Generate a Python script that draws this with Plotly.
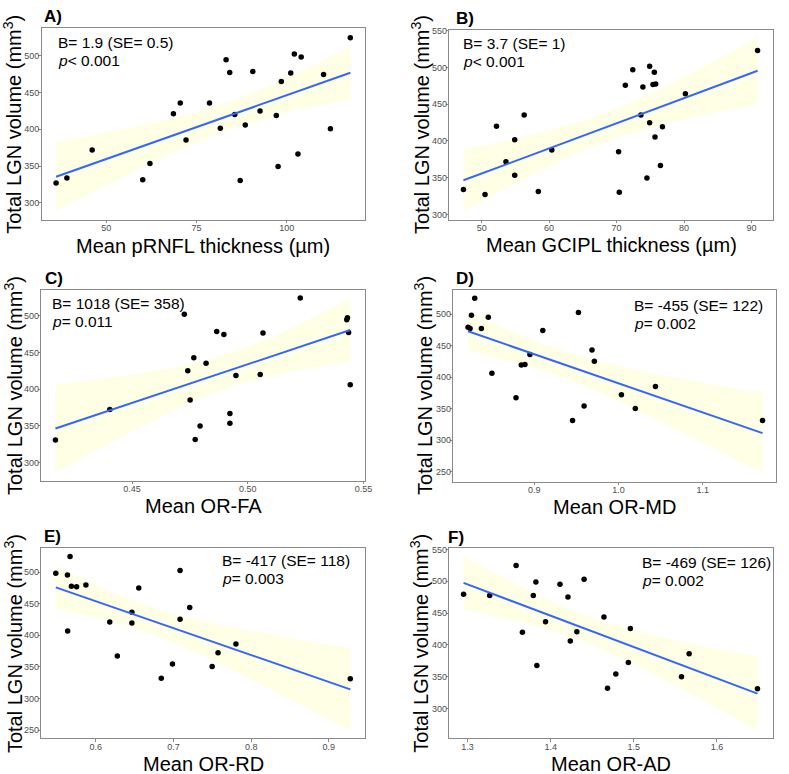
import plotly.graph_objects as go
import numpy as np

#%% Data
a_x = [36.1, 39.1, 46.1, 60.1, 62.1, 68.6, 70.5, 72.1, 78.6, 81.6, 83.2, 84.2, 85.6, 87.1,
       88.5, 90.6, 92.6, 97.1, 97.6, 98.5, 101.1, 102.1, 103.1, 104.0, 110.2, 112.1, 117.6]
a_y = [327, 334, 372, 331.5, 353.5, 421, 435.7, 385.4, 435.7, 401.6, 494.6, 477.1, 420, 330.6,
       406, 478.4, 425, 418.7, 349.4, 465, 476.6, 502.2, 366.5, 498.2, 474.4, 400.7, 524.5]

b_x = [47.3, 50.5, 52.2, 53.6, 54.9, 54.9, 56.3, 58.4, 60.4, 70.3, 70.4, 71.3, 72.4, 73.6,
       73.9, 74.5, 74.9, 74.9, 75.6, 75.4, 75.8, 75.7, 76.5, 76.8, 80.2, 90.9]
b_y = [333.8, 327, 419.8, 371.6, 401.4, 353.2, 435.1, 331.1, 387.8, 385.1, 330.2, 475.7, 496.8,
       435.1, 473.4, 349.5, 501.4, 424.8, 493.2, 476.6, 477.5, 405.4, 366.7, 419.4, 464, 523]

c_x = [0.4169, 0.4404, 0.4726, 0.4741, 0.4751, 0.4767, 0.4773, 0.4794, 0.482, 0.4866, 0.4897,
       0.4923, 0.4923, 0.4949, 0.5054, 0.5066, 0.5227, 0.5428, 0.5431, 0.5436, 0.5443]
c_y = [330.7, 372.2, 501.8, 425.1, 385.3, 442.7, 331.6, 349.7, 435.4, 478.3, 474.3,
       366.8, 353.7, 418.7, 420.1, 476.5, 523.9, 494.6, 497.3, 477, 406]

d_x = [0.8215, 0.8239, 0.8255, 0.8294, 0.8373, 0.8455, 0.8498, 0.8784, 0.8847, 0.8890, 0.8949,
       0.9102, 0.9455, 0.9525, 0.9592, 0.9686, 0.9714, 1.0035, 1.0200, 1.0439, 1.171]
d_y = [479, 477, 498, 525, 477, 495, 406, 367, 419, 420, 436,
       474, 331, 502.6, 354, 443, 425, 372, 350, 385, 331]

e_x = [0.5484, 0.5634, 0.5668, 0.5685, 0.5752, 0.5637, 0.5872, 0.6179, 0.6277, 0.6464, 0.6464,
       0.6553, 0.6843, 0.6987, 0.7085, 0.7085, 0.7209, 0.7498, 0.7574, 0.7804, 0.9277]
e_y = [498, 495.3, 524.7, 477.5, 476.9, 406.8, 479.6, 420.9, 367.4, 436.6, 419.3,
       474.8, 332.3, 354.8, 502.6, 425.6, 443.9, 350.6, 372.6, 386.3, 331.2]

f_x = [1.2952, 1.3266, 1.3584, 1.3660, 1.3791, 1.3822, 1.3834, 1.3938, 1.4112, 1.4208, 1.4236,
       1.4315, 1.4402, 1.4641, 1.4684, 1.4784, 1.4935, 1.4959, 1.5574, 1.5666, 1.6488]
f_y = [479.7, 477.6, 525, 419.8, 477.6, 499, 367.7, 436.5, 495.3, 475.5, 406.3,
       420.8, 503.1, 443.8, 331.8, 354.2, 372.4, 426, 350, 386, 331.3]

labels = ['A)', 'B)', 'C)', 'D)', 'E)', 'F)']
x_titles = ['Mean pRNFL thickness (µm)', 'Mean GCIPL thickness (µm)', 'Mean OR-FA',
            'Mean OR-MD', 'Mean OR-RD', 'Mean OR-AD']
stat_b = ['B= 1.9 (SE= 0.5)', 'B= 3.7 (SE= 1)', 'B= 1018 (SE= 358)',
          'B= -455 (SE= 122)', 'B= -417 (SE= 118)', 'B= -469 (SE= 126)']
stat_p = ['<i>p</i>&lt; 0.001', '<i>p</i>&lt; 0.001', '<i>p</i>= 0.011',
          '<i>p</i>= 0.002', '<i>p</i>= 0.003', '<i>p</i>= 0.002']

#%% Layout per panel (pixel boxes in a 789x774 page)
W, H = 789, 774
panels = [
    # x, y, box(l, t, r, b), xrange, yrange, xticks, yticks, xfmt, stats pos, y title x, label x
    dict(x=a_x, y=a_y, box=(42, 24, 368, 217), xr=[32.1, 121.6], yr=[277, 537.8],
         xt=[50, 75, 100], yt=[300, 350, 400, 450, 500], fmt='d', sx=57, sy=42, tx=13, lx=42),
    dict(x=b_x, y=b_y, box=(453.3, 26, 780, 216.7), xr=[45.2, 93.2], yr=[293, 551],
         xt=[50, 60, 70, 80, 90], yt=[300, 350, 400, 450, 500, 550], fmt='d', sx=465, sy=42.7, tx=424, lx=458),
    dict(x=c_x, y=c_y, box=(41.7, 287.3, 368.3, 479), xr=[0.4108, 0.5507], yr=[275.6, 535.2],
         xt=[0.45, 0.50, 0.55], yt=[300, 350, 400, 450, 500], fmt='.2f', sx=50, sy=304.3, tx=13, lx=43),
    dict(x=d_x, y=d_y, box=(457.3, 287.3, 783.3, 480), xr=[0.8039, 1.1874], yr=[234.2, 538.5],
         xt=[0.9, 1.0, 1.1], yt=[250, 300, 350, 400, 450, 500], fmt='.1f', sx=637.7, sy=305.7, tx=427, lx=458),
    dict(x=e_x, y=e_y, box=(41.7, 546.7, 368.3, 738.3), xr=[0.5298, 0.9467], yr=[237, 538.2],
         xt=[0.6, 0.7, 0.8, 0.9], yt=[250, 300, 350, 400, 450, 500], fmt='.1f', sx=221.7, sy=562.3, tx=13, lx=42),
    dict(x=f_x, y=f_y, box=(453.3, 547.3, 780, 738.3), xr=[1.278, 1.6676], yr=[253, 551.6],
         xt=[1.3, 1.4, 1.5, 1.6], yt=[300, 350, 400, 450, 500, 550], fmt='.1f', sx=645.7, sy=564, tx=423, lx=450),
]

# t quantiles (0.975) by residual df
t_q = {19: 2.093, 24: 2.064, 25: 2.060}

font_fam = 'Liberation Sans, Arial, sans-serif'

fig = go.Figure()
annots = []
lay = {}

for i, p in enumerate(panels):
    n = i + 1
    xa = 'x' if n == 1 else 'x%d' % n
    ya = 'y' if n == 1 else 'y%d' % n
    x = np.array(p['x'])
    y = np.array(p['y'])

    #lm fit + 95% CI (like geom_smooth(method='lm'))
    N = len(x)
    b1, b0 = np.polyfit(x, y, 1)
    resid = y - (b0 + b1*x)
    s = np.sqrt(np.sum(resid**2)/(N-2))
    xs = np.linspace(x.min(), x.max(), 80)
    ys = b0 + b1*xs
    se = s*np.sqrt(1/N + (xs-x.mean())**2/np.sum((x-x.mean())**2))
    tq = t_q.get(N-2, 2.07)
    up, lo = ys + tq*se, ys - tq*se

    fig.add_trace(go.Scatter(x=np.concatenate([xs, xs[::-1]]), y=np.concatenate([up, lo[::-1]]),
                             fill='toself', fillcolor='rgba(255,255,195,0.42)', line=dict(width=0),
                             mode='lines', hoverinfo='skip', showlegend=False, xaxis=xa, yaxis=ya))
    fig.add_trace(go.Scatter(x=x, y=y, mode='markers', marker=dict(color='black', size=5.5),
                             showlegend=False, xaxis=xa, yaxis=ya))
    fig.add_trace(go.Scatter(x=xs, y=ys, mode='lines', line=dict(color='#3366FF', width=2),
                             showlegend=False, xaxis=xa, yaxis=ya))

    l, t, r, b = p['box']
    ax_style = dict(showline=True, mirror=True, linecolor='#8a8a8a', linewidth=1,
                    showgrid=False, zeroline=False, ticks='outside', ticklen=2.5,
                    tickcolor='#8a8a8a', tickfont=dict(size=9, color='#4d4d4d', family=font_fam))
    xfmt = '' if p['fmt'] == 'd' else p['fmt']
    lay['xaxis' if n == 1 else 'xaxis%d' % n] = dict(
        domain=[l/W, r/W], range=p['xr'], tickvals=p['xt'], tickformat=xfmt,
        anchor=ya, ticklabelstandoff=-3, **ax_style)
    lay['yaxis' if n == 1 else 'yaxis%d' % n] = dict(
        domain=[1-b/H, 1-t/H], range=p['yr'], tickvals=p['yt'],
        anchor=xa, ticklabelstandoff=-3, **ax_style)

    #texts
    cx = (l+r)/2
    cy = (t+b)/2
    annots.append(dict(text='<b>%s</b>' % labels[i], x=p['lx']/W, y=1-(t-11)/H,
                       xref='paper', yref='paper', xanchor='left', yanchor='middle',
                       showarrow=False, font=dict(size=17, color='black', family=font_fam)))
    annots.append(dict(text=stat_b[i], x=p['sx']/W, y=1-(p['sy']-3)/H, xref='paper', yref='paper',
                       xanchor='left', yanchor='middle', showarrow=False,
                       font=dict(size=15.5, color='black', family=font_fam)))
    annots.append(dict(text=stat_p[i], x=p['sx']/W, y=1-(p['sy']+15)/H, xref='paper', yref='paper',
                       xanchor='left', yanchor='middle', showarrow=False,
                       font=dict(size=15.5, color='black', family=font_fam)))
    annots.append(dict(text=x_titles[i], x=cx/W, y=1-(b+26)/H, xref='paper', yref='paper',
                       xanchor='center', yanchor='middle', showarrow=False,
                       font=dict(size=20, color='black', family=font_fam)))
    annots.append(dict(text='Total LGN volume (mm<sup>3</sup>)', x=p['tx']/W, y=1-cy/H,
                       xref='paper', yref='paper', textangle=-90,
                       xanchor='center', yanchor='middle', showarrow=False,
                       font=dict(size=20, color='black', family=font_fam)))

fig.update_layout(
    width=W, height=H,
    margin=dict(l=0, r=0, t=0, b=0),
    paper_bgcolor='white', plot_bgcolor='white',
    annotations=annots,
    **lay
)

# drop the default 8px page margin so the figure sits at the window corner
fig.write_html("out.html", config={'displayModeBar': False},
               post_script="document.body.style.margin='0';")
